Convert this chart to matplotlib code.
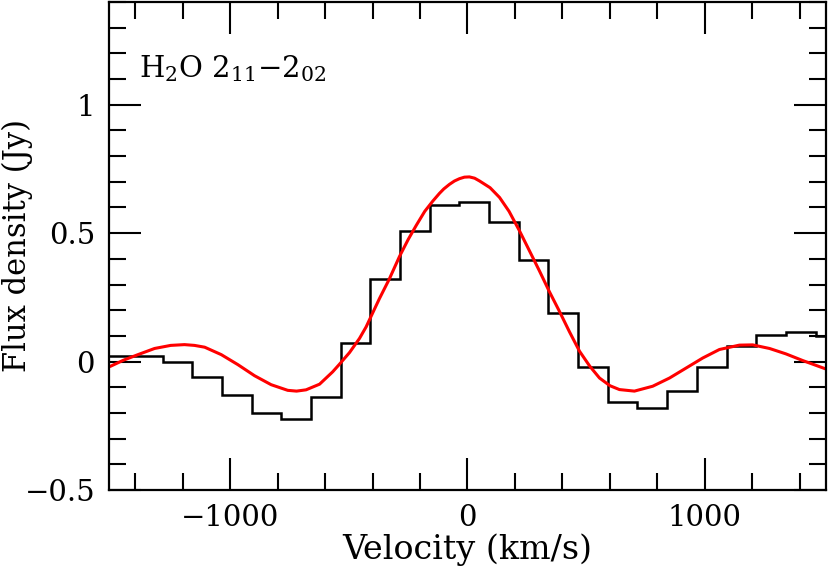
import matplotlib
matplotlib.use("Agg")
import matplotlib.pyplot as plt
from matplotlib.ticker import MultipleLocator

plt.rcParams['font.family'] = ['DejaVu Serif']
plt.rcParams['mathtext.fontset'] = 'dejavuserif'

# observed spectrum: channel edges (km/s) and flux per channel (Jy)
chan_edges = [-1534, -1409, -1284, -1159, -1034, -909, -784, -659, -534, -409,
              -284, -159, -34, 91, 216, 341, 466, 591, 716, 841,
              966, 1091, 1216, 1341, 1466, 1591]
chan_flux = [0.023, 0.023, -0.002, -0.059, -0.130, -0.200, -0.223, -0.138, 0.071, 0.320,
             0.510, 0.610, 0.620, 0.545, 0.397, 0.191, -0.020, -0.159, -0.182, -0.116,
             -0.023, 0.061, 0.104, 0.114, 0.098]

# fitted line profile
fit_vel = [-1528, -1503, -1450, -1388, -1318, -1250, -1192, -1150, -1107, -1037,
           -967, -897, -827, -757, -720, -680, -623, -568, -539, -497,
           -455, -427, -371, -330, -286, -250, -216, -180, -146, -118,
           -100, -76, -55, -34, -13, 8, 30, 51, 95, 135,
           175, 219, 260, 303, 345, 387, 430, 472, 515, 556,
           600, 640, 703, 780, 851, 921, 991, 1061, 1145, 1201,
           1272, 1341, 1412, 1510]
fit_flux = [-0.025, -0.018, 0.005, 0.027, 0.051, 0.063, 0.066, 0.063, 0.056, 0.027,
            -0.012, -0.055, -0.090, -0.112, -0.115, -0.110, -0.088, -0.040, -0.010, 0.035,
            0.090, 0.135, 0.245, 0.320, 0.410, 0.475, 0.530, 0.585, 0.625, 0.655,
            0.672, 0.690, 0.703, 0.712, 0.718, 0.719, 0.714, 0.703, 0.677, 0.639,
            0.585, 0.509, 0.433, 0.353, 0.272, 0.196, 0.115, 0.040, -0.018, -0.064,
            -0.094, -0.109, -0.115, -0.096, -0.064, -0.025, 0.014, 0.047, 0.064, 0.065,
            0.051, 0.030, 0.004, -0.029]

fig = plt.figure(figsize=(8.3, 5.67), dpi=100)
ax = fig.add_axes([0.1313, 0.1358, 0.8639, 0.8607])

ax.stairs(chan_flux, chan_edges, baseline=None, color='black', lw=1.8)
ax.plot(fit_vel, fit_flux, color='red', lw=2.2)

ax.set_xlim(-1510, 1510)
ax.set_ylim(-0.5, 1.4)

ax.xaxis.set_major_locator(MultipleLocator(1000))
ax.xaxis.set_minor_locator(MultipleLocator(200))
ax.yaxis.set_major_locator(MultipleLocator(0.5))
ax.yaxis.set_minor_locator(MultipleLocator(0.1))
ax.yaxis.set_major_formatter(plt.FuncFormatter(lambda v, p: '0' if abs(v) < 1e-9 else ('%g' % v).replace('-', '\u2212')))
ax.tick_params(which='both', direction='in', top=True, right=True, width=1.5, labelsize=21)
ax.tick_params(which='major', length=23, pad=10)
ax.tick_params(which='minor', length=12)
for s in ax.spines.values():
    s.set_linewidth(1.6)

ax.set_xlabel('Velocity (km/s)', fontsize=24, labelpad=1)
ax.set_ylabel('Flux density (Jy)', fontsize=22)
ax.yaxis.set_label_coords(-0.106, 0.5)
ax.text(0.042, 0.845, r'H$_2$O 2$_{11}$$-$2$_{02}$', transform=ax.transAxes, fontsize=21)

fig.savefig('out.png', dpi=100)
